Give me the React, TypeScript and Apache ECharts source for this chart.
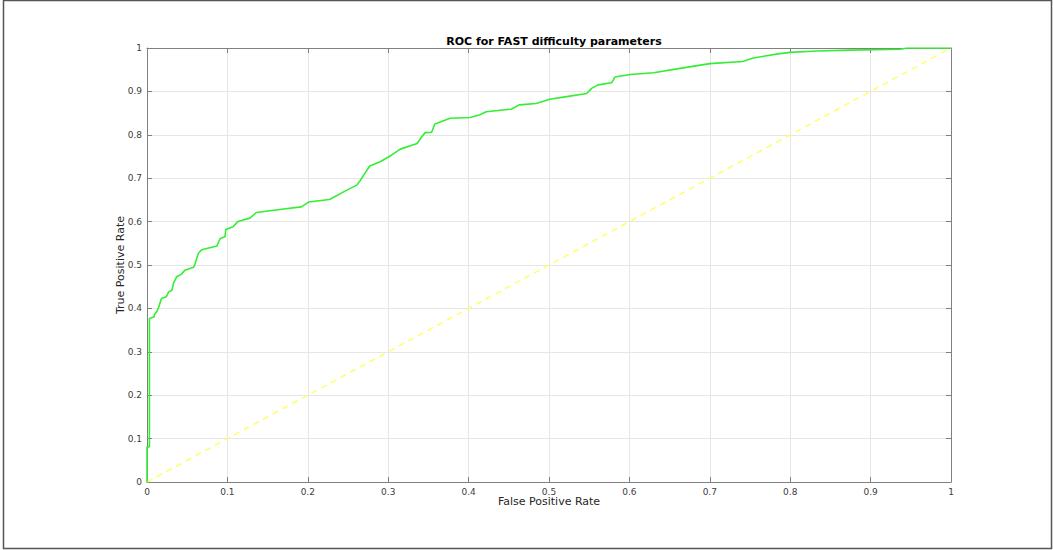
import React, { useEffect, useRef } from "react";
import * as echarts from "echarts";

const title = "ROC for FAST difficulty parameters";
const xName = "False Positive Rate";
const yName = "True Positive Rate";

// ROC curve points [FPR, TPR]
const rocFpr = [
  0, 0, 0.003, 0.003, 0.009, 0.009, 0.012, 0.014, 0.018, 0.024, 0.027, 0.031, 0.033, 0.037, 0.043, 0.047,
  0.058, 0.060, 0.064, 0.068, 0.087, 0.091, 0.097, 0.098, 0.107, 0.113, 0.128, 0.136, 0.170, 0.192,
  0.201, 0.227, 0.248, 0.261, 0.265, 0.271, 0.277, 0.290, 0.304, 0.315, 0.336, 0.342, 0.346, 0.354,
  0.358, 0.377, 0.402, 0.414, 0.422, 0.453, 0.463, 0.484, 0.501, 0.522, 0.547, 0.553, 0.561, 0.578,
  0.582, 0.601, 0.630, 0.663, 0.700, 0.741, 0.754, 0.787, 0.800, 0.833, 0.874, 0.937, 0.945, 1.0,
];
const rocTpr = [
  0, 0.081, 0.081, 0.377, 0.381, 0.385, 0.392, 0.400, 0.423, 0.427, 0.438, 0.442, 0.458, 0.473, 0.479, 0.488,
  0.495, 0.504, 0.527, 0.535, 0.544, 0.561, 0.565, 0.582, 0.588, 0.600, 0.608, 0.621, 0.629, 0.634,
  0.645, 0.651, 0.672, 0.684, 0.694, 0.711, 0.728, 0.738, 0.753, 0.767, 0.780, 0.796, 0.805, 0.806,
  0.825, 0.838, 0.840, 0.846, 0.853, 0.859, 0.869, 0.872, 0.882, 0.888, 0.895, 0.907, 0.915, 0.920,
  0.933, 0.939, 0.943, 0.953, 0.964, 0.969, 0.977, 0.987, 0.990, 0.993, 0.995, 0.997, 1.0, 1.0,
];
const chanceX = [0, 1];
const chanceY = [0, 1];

export default function App() {
  const ref = useRef<HTMLDivElement>(null);
  useEffect(() => {
    if (!ref.current) return;
    const chart = echarts.init(ref.current, null, { renderer: "svg" });
    const font = "DejaVu Sans";
    const axisColor = "#808080";
    const labelColor = "#404040";
    const baseAxis = (pos: string, show: boolean) => ({
      type: "value",
      position: pos,
      min: 0,
      max: 1,
      interval: 0.1,
      axisLine: { show: true, onZero: false, lineStyle: { color: axisColor, width: 1 } },
      axisTick: { show: true, inside: true, length: 5, lineStyle: { color: axisColor } },
      axisLabel: {
        show,
        color: labelColor,
        fontFamily: font,
        fontSize: 9,
        margin: 5,
        formatter: (v: number) => String(Math.round(v * 10) / 10),
      },
      splitLine: { show: show, lineStyle: { color: "#e6e6e6", width: 1 } },
    });
    chart.setOption({
      animation: false,
      backgroundColor: "#ffffff",
      title: {
        text: title,
        left: 549,
        top: 31,
        textAlign: "center",
        textStyle: { fontFamily: font, fontSize: 11, fontWeight: "bold", color: "#000" },
      },
      grid: { left: 147, top: 48, width: 804, height: 434, containLabel: false },
      xAxis: [
        {
          ...baseAxis("bottom", true),
          name: xName,
          nameLocation: "middle",
          nameGap: 14,
          nameMoveOverlap: false,
          nameTextStyle: { fontFamily: font, fontSize: 11, color: "#262626" },
        },
        { ...baseAxis("top", false) },
      ],
      yAxis: [
        {
          ...baseAxis("left", true),
          name: yName,
          nameLocation: "middle",
          nameGap: 21,
          nameMoveOverlap: false,
          nameTextStyle: { fontFamily: font, fontSize: 11, color: "#262626" },
        },
        { ...baseAxis("right", false) },
      ],
      graphic: [
        {
          type: "rect",
          shape: { x: 3.5, y: 0.5, width: 1048, height: 548 },
          style: { fill: "none", stroke: "#555", lineWidth: 1.5 },
          silent: true,
        },
      ],
      series: [
        {
          type: "line",
          data: chanceX.map((x, i) => [x, chanceY[i]]),
          showSymbol: false,
          lineStyle: { color: "#ffff66", width: 1.5, type: [6, 5] },
          z: 2,
        },
        {
          type: "line",
          data: rocFpr.map((x, i) => [x, rocTpr[i]]),
          showSymbol: false,
          lineStyle: { color: "#33ee33", width: 1.6 },
          z: 3,
        },
      ],
    });
    return () => chart.dispose();
  }, []);
  return (
    <div
      ref={ref}
      style={{ position: "absolute", left: 0, top: 0, width: 1053, height: 550 }}
    />
  );
}
